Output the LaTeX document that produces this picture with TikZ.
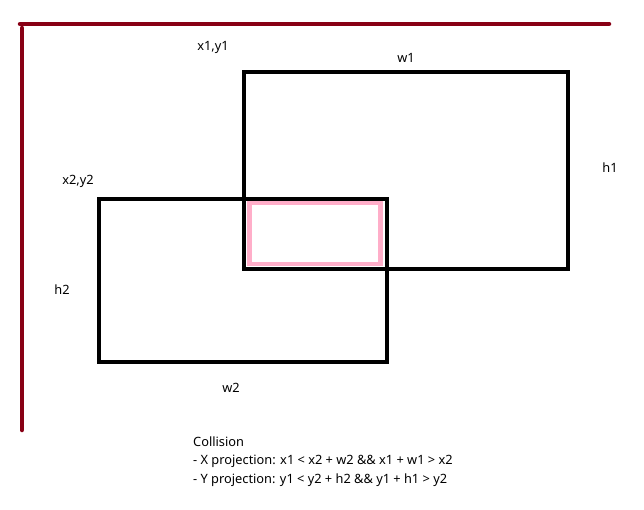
\documentclass[tikz,border=0pt]{standalone}
\usepackage{fontspec}
\setmainfont{Noto Sans}
\definecolor{axisred}{HTML}{880015}
\definecolor{overlappink}{HTML}{FFAEC9}
\begin{document}
\begin{tikzpicture}[
    x=1pt, y=-1pt,
    every node/.style={font=\fontsize{12.8}{18.5}\selectfont},
    % Axis line style
    axis/.style={draw=axisred, line width=4.5pt, line cap=round},
    % Bounding box style
    frame/.style={
        rectangle, draw=black, line width=4pt,
        inner sep=0pt, outer sep=0pt
    },
    % Overlap region style
    overlap/.style={
        rectangle, draw=overlappink, line width=4.5pt,
        inner sep=0pt, outer sep=0pt
    },
    % Label style
    tag/.style={inner sep=1pt}
]
\useasboundingbox (0,0) rectangle (644,509);

% --- Axes ---
\coordinate (origin) at (22,24);
\coordinate (xend) at (609,24);
\coordinate (ycorner) at (22,28);
\coordinate (yend) at (22,430);
\draw[axis] (20,24) -- (xend);
\draw[axis] (ycorner) -- (yend);

% --- Boxes ---
\node[frame, minimum width=324pt, minimum height=197pt] (boxone) at (406,170.5) {};
\node[frame, minimum width=288pt, minimum height=163pt] (boxtwo) at (242.5,280.5) {};
\node[overlap, minimum width=131pt, minimum height=61pt] (inter) at (315,233.5) {};

% --- Labels ---
\node[tag] (pos1) at (213,47) {x1,y1};
\node[tag] (wid1) at (406,58) {w1};
\node[tag] (hgt1) at (610,168) {h1};
\node[tag] (pos2) at (78,181) {x2,y2};
\node[tag] (hgt2) at (62,290) {h2};
\node[tag] (wid2) at (231,388) {w2};

% --- Collision rule ---
\node[tag, anchor=base west, align=left] (rule) at (192,483)
    {Collision\\- X projection: x1 < x2 + w2 \&\& x1 + w1 > x2\\- Y projection: y1 < y2 + h2 \&\& y1 + h1 > y2};

\end{tikzpicture}
\end{document}
